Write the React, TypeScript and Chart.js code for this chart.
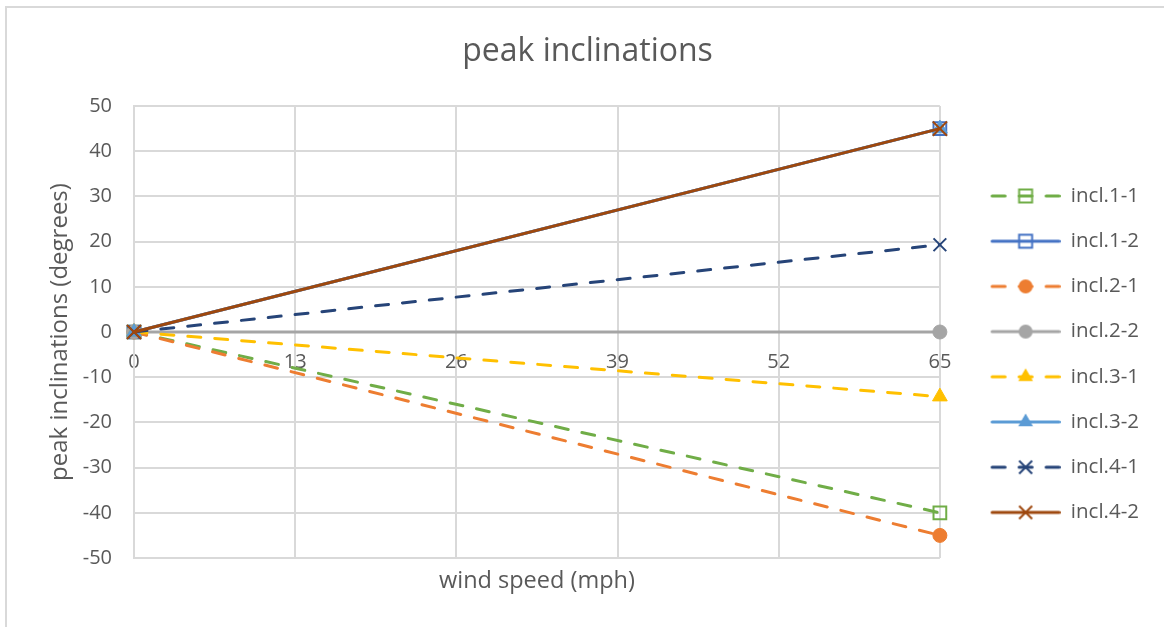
import React, { useEffect, useRef } from "react";
import { Chart, registerables } from "chart.js";

Chart.register(...registerables);

// ---- data ----
const seriesNames = ["incl.1-1", "incl.1-2", "incl.2-1", "incl.2-2", "incl.3-1", "incl.3-2", "incl.4-1", "incl.4-2"];
const windSpeed = [0, 65];
const incl11 = [0, -40];
const incl12 = [0, 45];
const incl21 = [0, -45];
const incl22 = [0, 0];
const incl31 = [0, -14.3];
const incl32 = [0, 45];
const incl41 = [0, 19.3];
const incl42 = [0, 45];
const xTicks = [0, 13, 26, 39, 52, 65];
const yTicks = [-50, -40, -30, -20, -10, 0, 10, 20, 30, 40, 50];

const seriesValues = [incl11, incl12, incl21, incl22, incl31, incl32, incl41, incl42];

// ---- styles ----
const FONT = "'Open Sans', 'DejaVu Sans', sans-serif";
const TEXT = "#595959";
const GRID = "#d9d9d9";
const styles = [
  { color: "#70AD47", dashed: true, marker: "rect", fill: false, r: 9 },
  { color: "#4472C4", dashed: false, marker: "rect", fill: false, r: 9 },
  { color: "#ED7D31", dashed: true, marker: "circle", fill: true, r: 7 },
  { color: "#A5A5A5", dashed: false, marker: "circle", fill: true, r: 7 },
  { color: "#FFC000", dashed: true, marker: "triangle", fill: true, r: 8.5 },
  { color: "#5B9BD5", dashed: false, marker: "triangle", fill: true, r: 8.5 },
  { color: "#264478", dashed: true, marker: "crossRot", fill: false, r: 9 },
  { color: "#9E480E", dashed: false, marker: "crossRot", fill: false, r: 10 },
];
const DASH = [13, 14];
const ICON_W = 96;
const ICON_H = 22;
const LEGEND_FONT = 20.5;

function makeIcon(st: any): HTMLCanvasElement {
  const c = document.createElement("canvas");
  c.width = ICON_W;
  c.height = ICON_H;
  const g = c.getContext("2d")!;
  const cy = ICON_H / 2;
  const x0 = ICON_W - 70;
  const mx = x0 + 35;
  g.strokeStyle = st.color;
  g.lineWidth = 3;
  g.lineCap = "round";
  if (st.dashed) g.setLineDash(DASH);
  g.beginPath();
  g.moveTo(x0 + 1.5, cy);
  g.lineTo(ICON_W - 1.5, cy);
  g.stroke();
  g.setLineDash([]);
  g.lineCap = "butt";
  g.fillStyle = st.color;
  if (st.marker === "rect") {
    g.lineWidth = 2;
    g.strokeRect(mx - 6.5, cy - 6.5, 13, 13);
  } else if (st.marker === "circle") {
    g.beginPath();
    g.arc(mx, cy, 7, 0, Math.PI * 2);
    g.fill();
  } else if (st.marker === "triangle") {
    const r = 8.5;
    g.beginPath();
    g.moveTo(mx, cy - r);
    g.lineTo(mx + r * Math.sin((2 * Math.PI) / 3), cy - r * Math.cos((2 * Math.PI) / 3));
    g.lineTo(mx - r * Math.sin((2 * Math.PI) / 3), cy - r * Math.cos((2 * Math.PI) / 3));
    g.closePath();
    g.fill();
  } else {
    const h = 6.5;
    g.lineWidth = 2;
    g.beginPath();
    g.moveTo(mx - h, cy - h);
    g.lineTo(mx + h, cy + h);
    g.moveTo(mx + h, cy - h);
    g.lineTo(mx - h, cy + h);
    g.stroke();
  }
  return c;
}

const PLOT_LEFT = 134;
const PAD_LEFT = 26;

export default function App() {
  const ref = useRef<HTMLCanvasElement>(null);

  useEffect(() => {
    document.body.style.margin = "0";
    const icons = styles.map(makeIcon);
    const datasets = seriesValues.map((vals, i) => {
      const st = styles[i];
      const transparent = "rgba(0,0,0,0)";
      return {
        label: seriesNames[i],
        data: windSpeed.map((x, j) => ({ x, y: vals[j] })),
        borderColor: st.color,
        backgroundColor: st.fill ? st.color : transparent,
        borderWidth: 3,
        borderDash: st.dashed ? DASH : [],
        borderCapStyle: "round" as const,
        pointStyle: st.marker,
        pointRadius: st.r,
        pointBorderColor: st.color,
        pointBackgroundColor: st.fill ? st.color : transparent,
        pointBorderWidth: st.fill ? 1 : 2,
        fill: false,
        tension: 0,
        clip: false as any,
        order: seriesNames.length - i,
      };
    });

    const tickFont = { family: FONT, size: 20 };
    const chart = new Chart(ref.current!, {
      type: "line",
      data: { datasets: datasets as any },
      options: {
        animation: false,
        responsive: false,
        maintainAspectRatio: false,
        events: [],
        layout: { padding: { left: PAD_LEFT, right: 15, top: 0, bottom: 26 } },
        plugins: {
          title: {
            display: true,
            text: "peak inclinations",
            color: TEXT,
            font: { family: FONT, size: 32, weight: "normal" },
            padding: { top: 32.8, bottom: 34.8 },
          },
          legend: {
            position: "right",
            title: {
              display: true,
              text: " ",
              font: { family: FONT, size: 12 },
              padding: { top: 46.5, bottom: 46.5 },
            },
            labels: {
              usePointStyle: true,
              pointStyleWidth: ICON_W,
              padding: 24.7,
              color: TEXT,
              font: { family: FONT, size: LEGEND_FONT },
              generateLabels: (ch: any) =>
                ch.data.datasets.map((ds: any, i: number) => ({
                  text: ds.label,
                  pointStyle: icons[i],
                  fillStyle: "rgba(0,0,0,0)",
                  strokeStyle: "rgba(0,0,0,0)",
                  lineWidth: 0,
                  hidden: false,
                  datasetIndex: i,
                  fontColor: TEXT,
                })),
            },
          },
          tooltip: { enabled: false },
        },
        scales: {
          x: {
            type: "linear",
            position: { y: 0 } as any,
            min: 0,
            max: 65,
            afterBuildTicks: (s: any) => {
              s.ticks = xTicks.map((v) => ({ value: v }));
            },
            grid: { color: GRID, lineWidth: 2, drawTicks: false },
            border: { color: GRID, width: 2 },
            ticks: { color: TEXT, font: tickFont, padding: 18, maxRotation: 0, autoSkip: false },
          },
          y: {
            type: "linear",
            position: "left",
            min: -50,
            max: 50,
            afterBuildTicks: (s: any) => {
              s.ticks = yTicks.map((v) => ({ value: v }));
            },
            afterFit: (s: any) => {
              s.width = PLOT_LEFT - PAD_LEFT;
            },
            grid: { color: GRID, lineWidth: 2, drawTicks: false },
            border: { color: GRID, width: 2 },
            ticks: { color: TEXT, font: tickFont, padding: 22 },
            title: {
              display: true,
              text: "peak inclinations (degrees)",
              color: TEXT,
              font: { family: FONT, size: 24 },
              padding: { top: 20, bottom: 4 },
            },
          },
          xTitle: {
            type: "linear",
            position: "bottom",
            display: true,
            grid: { display: false, drawTicks: false },
            border: { display: false },
            ticks: { display: false },
            afterFit: (s: any) => {
              s.height = 43;
            },
            title: {
              display: true,
              text: "wind speed (mph)",
              color: TEXT,
              font: { family: FONT, size: 23.5 },
              padding: { top: 0, bottom: 6 },
            },
          },
        } as any,
      },
    });
    return () => chart.destroy();
  }, []);

  return (
    <div style={{ position: "relative", width: 1164, height: 627, background: "#fff", overflow: "hidden" }}>
      <div
        style={{
          position: "absolute",
          left: 5,
          top: 6,
          right: -10,
          bottom: -10,
          borderTop: `2px solid ${GRID}`,
          borderLeft: `2px solid ${GRID}`,
        }}
      />
      <canvas ref={ref} width={1164} height={627} style={{ position: "absolute", left: 0, top: 0 }} />
    </div>
  );
}
